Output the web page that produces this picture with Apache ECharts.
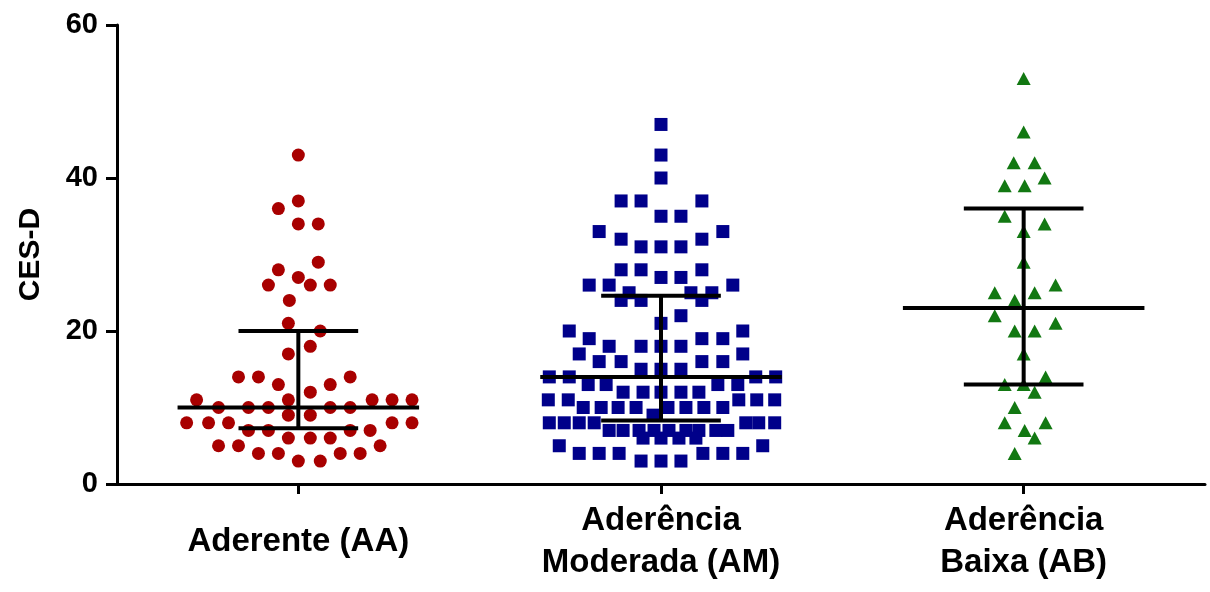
<!DOCTYPE html>
<html>
<head>
<meta charset="utf-8">
<script src="https://cdn.jsdelivr.net/npm/echarts@6/dist/echarts.min.js"></script>
<style>
html,body{margin:0;padding:0;background:#fff;}
#chart{width:1210px;height:592px;}
</style>
</head>
<body>
<div id="chart"></div>
<script>
// ---- categories ----
const categories = ['Aderente (AA)', 'Aderência\nModerada (AM)', 'Aderência\nBaixa (AB)'];

// ---- y-axis ticks ----
const yMin = 0, yMax = 60, yStep = 20;

// ---- Aderente (AA): CES-D values and swarm column offsets (in dot widths) ----
const aaValues  = [43, 37, 36, 34, 34, 29, 28, 27, 26, 26, 26, 24, 21, 20, 18, 17,
  14, 14, 14, 13, 13, 12, 11, 11, 11, 11, 11, 10, 10, 10, 10, 10, 9, 9,
  8, 8, 8, 8, 8, 7, 7, 7, 7, 6, 6, 6, 5, 5, 5, 4, 4, 4, 4, 3, 3];
const aaOffsets = [0, 0, -1, 0, 1, 1, -1, 0, -1.5, 0.6, 1.6, -0.45, -0.5, 1.1, 0.6, -0.5,
  -3, -2, 2.6, -1, 1.6, 0.6, -5.1, -0.5, 3.7, 4.7, 5.7, -4, -2.5, -1.5, 1.6, 2.6, -0.5, 0.6,
  -5.6, -4.5, -3.5, 4.7, 5.7, -2.5, -1.5, 2.6, 3.6, -0.5, 0.6, 1.6, -4, -3, 4.1, -2, -1, 2.1, 3.1, 0, 1.1];

// ---- Aderência Moderada (AM) ----
const amValues  = [47, 43, 40, 37, 37, 37, 35, 35, 33, 33, 32, 32, 31, 31, 31,
  28, 28, 28, 27, 27, 26, 26, 26, 25, 25, 25, 24, 24, 24, 22, 21, 20, 20,
  19, 19, 19, 18, 18, 18, 18, 17, 17, 16, 16, 16, 16, 15, 15, 15,
  14, 14, 14, 14, 13, 13, 13, 13, 12, 12, 12, 12, 12, 11, 11, 11, 11, 11,
  10, 10, 10, 10, 10, 10, 10, 10, 9, 8, 8, 8, 8, 8, 8, 8,
  7, 7, 7, 7, 7, 7, 7, 7, 7, 6, 6, 6, 6, 5, 5, 4, 4, 4, 4, 4, 4, 3, 3, 3];
const amOffsets = [0, 0, 0, -2, -1, 2.05, 0, 1, -3.1, 3.1, -2, 2.05, -1, 0, 1,
  -2, -1, 2.05, 0, 1, -3.6, -2.6, 3.6, -1.6, 1.5, 2.55, -2, -1, 2.05, 1, 0, -4.6, 4.1,
  -3.6, 2.05, 3.1, -2.6, -1, 0, 1, -4.1, 4.1, -3.1, -2, 2.05, 3.1, -1, 0, 1,
  -5.6, -4.6, 4.75, 5.75, -3.65, -2.75, 2.85, 3.85, -1.9, -0.9, 0, 1, 1.9, -5.65, -4.65, 3.9, 4.8, 5.7,
  -3.9, -3, -2.15, -1.25, 0.35, 1.25, 2.15, 3.1, -0.4, -5.6, -4.85, -4.1, -3.35, 4.25, 4.9, 5.7,
  -2.6, -1.9, -1.1, -0.35, 0.4, 1.25, 1.9, 2.75, 3.35, -0.9, 0, 0.9, 1.75, -5.1, 5.1,
  -4.1, -3.1, -2.1, 2.1, 3.1, 4.1, -1, 0, 1];

// ---- Aderência Baixa (AB) ----
const abValues  = [53, 46, 42, 42, 40, 39, 39, 35, 34, 33, 29, 26, 25, 25, 24, 22, 21, 20, 20,
  17, 14, 13, 13, 12, 10, 8, 8, 7, 6, 4];
const abOffsets = [0, 0, -0.5, 0.55, 1.05, -0.95, 0.05, -0.95, 1.05, 0, 0, 1.6, -1.45, 0.55, -0.45, -1.45, 1.6, -0.45, 0.55,
  0, 1.1, -0.95, 0, 0.55, -0.45, -0.95, 1.1, 0.05, 0.55, -0.45];

// ---- median and interquartile range per group ----
const medians = [10, 14, 23];
const lowerQ  = [7.3, 8.3, 13];
const upperQ  = [20, 24.6, 36];

// ---- styling constants ----
const DOT_STEP = 0.055;     // one dot width, in category units
const MEDIAN_HALF = 0.333;  // half-width of median bar, category units
const WHISKER_HALF = 0.165; // half-width of quartile bars
const FONT = "'Liberation Sans', Arial, Helvetica, sans-serif";

function swarm(idx, values, offsets) {
  return values.map((v, i) => [idx + offsets[i] * DOT_STEP, v]);
}

const barData = medians.map((m, i) => [i, m, lowerQ[i], upperQ[i]]);

const chart = echarts.init(document.getElementById('chart'), null, {renderer: 'canvas'});
chart.setOption({
  animation: false,
  backgroundColor: '#fff',
  grid: {left: 117, right: 5, top: 25, bottom: 108, containLabel: false},
  xAxis: [{
    type: 'category',
    data: categories,
    axisLine: {show: true, onZero: false, lineStyle: {color: '#000', width: 3}},
    axisTick: {show: true, alignWithLabel: true, length: 10, lineStyle: {color: '#000', width: 3}},
    axisLabel: {
      color: '#000', fontFamily: FONT, fontWeight: 'bold', fontSize: 33,
      lineHeight: 42, margin: 58, verticalAlign: 'middle', interval: 0
    },
    splitLine: {show: false}
  }, {
    type: 'value', min: -0.5, max: 2.5, show: false
  }],
  yAxis: {
    type: 'value', min: yMin, max: yMax, interval: yStep,
    name: 'CES-D', nameLocation: 'middle', nameRotate: 90, nameGap: 71,
    nameTextStyle: {color: '#000', fontFamily: FONT, fontWeight: 'bold', fontSize: 30},
    axisLine: {show: true, onZero: false, lineStyle: {color: '#000', width: 3}},
    axisTick: {show: true, length: 11, lineStyle: {color: '#000', width: 3}},
    axisLabel: {color: '#000', fontFamily: FONT, fontWeight: 'bold', fontSize: 29, margin: 19},
    splitLine: {show: false}
  },
  series: [{
    type: 'scatter', xAxisIndex: 1, symbol: 'circle', symbolSize: 13,
    itemStyle: {color: '#A80000', opacity: 1},
    data: swarm(0, aaValues, aaOffsets), z: 2
  }, {
    type: 'scatter', xAxisIndex: 1, symbol: 'rect', symbolSize: 13,
    itemStyle: {color: '#00008A', opacity: 1},
    data: swarm(1, amValues, amOffsets), z: 2
  }, {
    type: 'scatter', xAxisIndex: 1, symbol: 'triangle', symbolSize: [14, 13],
    itemStyle: {color: '#127812', opacity: 1},
    data: swarm(2, abValues, abOffsets), z: 2
  }, {
    type: 'custom', xAxisIndex: 1, z: 5,
    data: barData,
    renderItem: function (params, api) {
      const x = api.value(0), m = api.value(1), lo = api.value(2), hi = api.value(3);
      const style = {stroke: '#000', lineWidth: 4};
      const seg = (a, b) => {
        const p1 = api.coord(a), p2 = api.coord(b);
        return {type: 'line', shape: {x1: p1[0], y1: p1[1], x2: p2[0], y2: p2[1]}, style: style};
      };
      return {type: 'group', children: [
        seg([x - MEDIAN_HALF, m], [x + MEDIAN_HALF, m]),
        seg([x, lo], [x, hi]),
        seg([x - WHISKER_HALF, lo], [x + WHISKER_HALF, lo]),
        seg([x - WHISKER_HALF, hi], [x + WHISKER_HALF, hi])
      ]};
    }
  }]
});
</script>
</body>
</html>
